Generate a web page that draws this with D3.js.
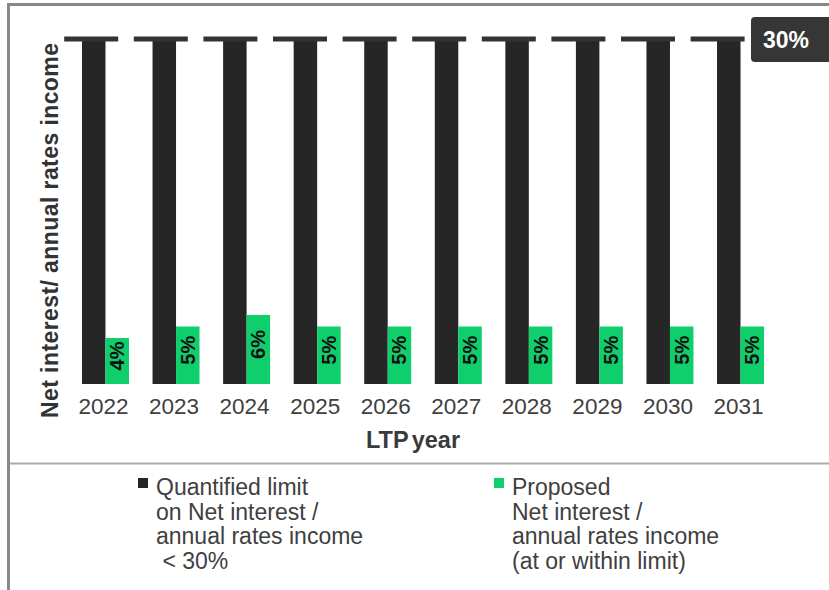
<!DOCTYPE html>
<html>
<head>
<meta charset="utf-8">
<script src="https://cdn.jsdelivr.net/npm/d3@7"></script>
<style>
  html, body { margin: 0; padding: 0; background: #fff; }
  svg { display: block; font-family: "Liberation Sans", Arial, sans-serif; }
</style>
</head>
<body>
<svg id="chart" width="829" height="590"></svg>
<script>
// LTP years and the two series (percent of annual rates income)
const years = ["2022", "2023", "2024", "2025", "2026", "2027", "2028", "2029", "2030", "2031"];
const limitValues = [30, 30, 30, 30, 30, 30, 30, 30, 30, 30];
const proposedValues = [4, 5, 6, 5, 5, 5, 5, 5, 5, 5];
const limitLevel = 30;
const seriesNames = ["limit", "proposed"];
const legendLimit = ["Quantified limit", "on Net interest /", "annual rates income", "\u00a0< 30%"];
const legendProposed = ["Proposed", "Net interest /", "annual rates income", "(at or within limit)"];

const BLACK = "#262626";
const GREEN = "#0fcf6d";

const svg = d3.select("#chart");

// Frame and divider
svg.append("line").attr("x1", 8.5).attr("x2", 8.5).attr("y1", 3).attr("y2", 590)
  .attr("stroke", "#888").attr("stroke-width", 3);
svg.append("line").attr("x1", 7).attr("x2", 829).attr("y1", 4.5).attr("y2", 4.5)
  .attr("stroke", "#888").attr("stroke-width", 3);
svg.append("line").attr("x1", 10).attr("x2", 829).attr("y1", 463.5).attr("y2", 463.5)
  .attr("stroke", "#aaa").attr("stroke-width", 2);

// Scales
const x = d3.scaleBand().domain(years).range([70.2, 775.8]).paddingInner(0.334).paddingOuter(0.167);
const xs = d3.scaleBand().domain(seriesNames).range([0, x.bandwidth()]);
const y = d3.scaleLinear().domain([0, 30]).range([384, 39]);

const rows = years.map((yr, i) => ({ year: yr, limit: limitValues[i], proposed: proposedValues[i] }));

const groups = svg.append("g").selectAll("g").data(rows).join("g")
  .attr("transform", d => `translate(${x(d.year)},0)`);

groups.append("rect")
  .attr("x", xs("limit")).attr("width", xs.bandwidth())
  .attr("y", d => y(d.limit)).attr("height", d => y(0) - y(d.limit))
  .attr("fill", BLACK);

groups.append("rect")
  .attr("x", xs("proposed")).attr("width", xs.bandwidth())
  .attr("y", d => y(d.proposed)).attr("height", d => y(0) - y(d.proposed))
  .attr("fill", GREEN);

// Value labels inside the green bars
groups.append("text")
  .attr("transform", d => {
    const cx = xs("proposed") + xs.bandwidth() / 2;
    const cy = (y(d.proposed) + y(0)) / 2 - 5;
    return `translate(${cx + 7},${cy}) rotate(-90)`;
  })
  .attr("text-anchor", "middle")
  .attr("font-weight", "bold").attr("font-size", 20).attr("fill", "#111")
  .text(d => d.proposed + "%");

// Dashed limit line
const [r0, r1] = x.range();
svg.append("line")
  .attr("x1", r0 - 6).attr("x2", r1 - 31)
  .attr("y1", y(limitLevel)).attr("y2", y(limitLevel))
  .attr("stroke", "#333").attr("stroke-width", 5)
  .attr("stroke-dasharray", "54,15.6");

// Limit tag
const tag = svg.append("g").attr("transform", `translate(751,${y(limitLevel) - 22})`);
tag.append("rect").attr("width", 90).attr("height", 45).attr("rx", 4).attr("fill", "#363636");
tag.append("text").attr("x", 35).attr("y", 31).attr("text-anchor", "middle")
  .attr("font-weight", "bold").attr("font-size", 23).attr("fill", "#fff")
  .text(limitLevel + "%");

// X axis (labels only)
const xAxis = svg.append("g").attr("transform", `translate(0,${y(0)})`)
  .call(d3.axisBottom(x).tickSize(0).tickPadding(14));
xAxis.select(".domain").remove();
xAxis.selectAll("text").attr("font-size", 22.5).attr("fill", "#404040")
  .attr("font-family", "Liberation Sans, Arial, sans-serif").attr("dx", -2);

svg.append("text").attr("x", 413).attr("y", 448).attr("text-anchor", "middle")
  .attr("font-weight", "bold").attr("font-size", 23.5).attr("fill", "#3a3a3a")
  .attr("word-spacing", -3)
  .text("LTP year");

svg.append("text")
  .attr("transform", `translate(58,${(43 + 418) / 2}) rotate(-90)`)
  .attr("text-anchor", "middle")
  .attr("font-weight", "bold").attr("font-size", 23).attr("fill", "#333")
  .attr("textLength", 375).attr("lengthAdjust", "spacing")
  .text("Net interest/ annual rates income");

// Legend
function legendItem(ox, color, lines) {
  const g = svg.append("g").attr("transform", `translate(${ox},0)`);
  g.append("rect").attr("x", 0).attr("y", 478).attr("width", 10).attr("height", 10).attr("fill", color);
  g.append("text").attr("x", 18).attr("y", 495)
    .attr("font-size", 23).attr("fill", "#404040")
    .selectAll("tspan").data(lines).join("tspan")
    .attr("x", 18).attr("dy", (d, i) => i === 0 ? 0 : 24.5)
    .text(d => d);
}
legendItem(138, BLACK, legendLimit);
legendItem(494, GREEN, legendProposed);
</script>
</body>
</html>
